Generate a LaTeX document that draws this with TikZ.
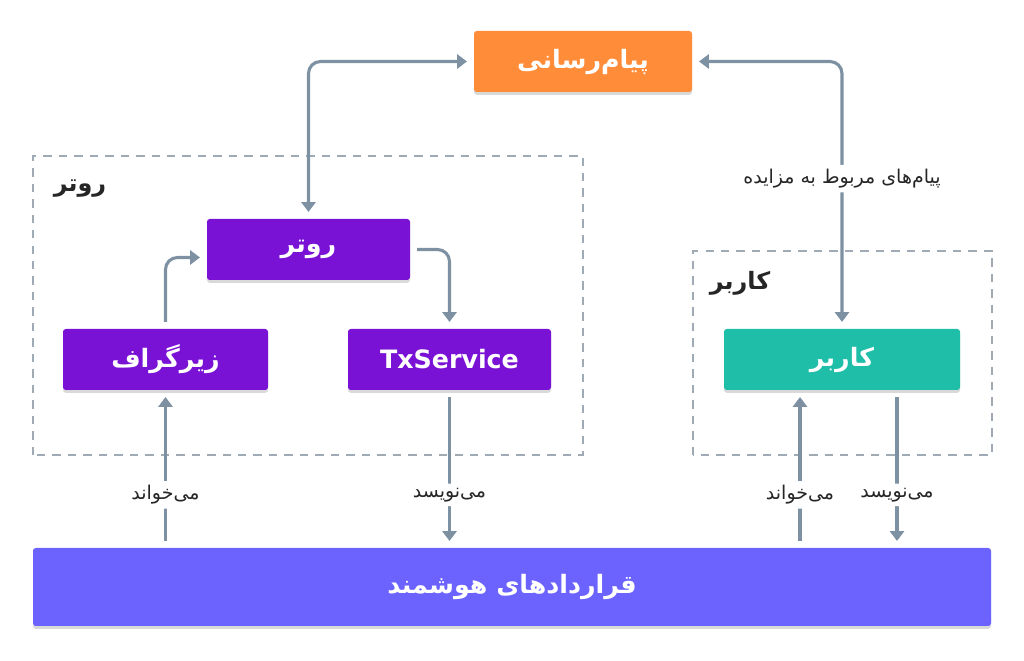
\documentclass[tikz,border=0pt]{standalone}
\usepackage{fontspec}
\setmainfont{DejaVu Sans}
\newfontfamily\farsi[Script=Arabic]{DejaVu Sans}
\TeXXeTstate=1
\usetikzlibrary{arrows.meta}
\usetikzlibrary{shadows}
\definecolor{msgorange}{RGB}{255,140,56}
\definecolor{routerpurple}{RGB}{122,18,214}
\definecolor{userteal}{RGB}{30,190,168}
\definecolor{contractblue}{RGB}{108,99,255}
\definecolor{arrowgray}{RGB}{125,145,163}
\definecolor{framegray}{RGB}{160,170,180}
\newcommand{\fatext}[1]{{\farsi\beginR #1\endR}}
\tikzset{
	box/.style={rounded corners=2pt,minimum height=1.525cm,text=white,outer sep=5pt,
		font=\fontsize{18}{21}\selectfont\bfseries,
		drop shadow={shadow xshift=0pt,shadow yshift=-2pt,opacity=0.15,fill=black}},
	frame/.style={draw=framegray,line width=1pt,dash pattern=on 6pt off 5pt},
	conn/.style={draw=arrowgray,line width=2.2pt,rounded corners=0.3cm,
		arrows={-Triangle[width=10pt,length=7pt]}},
	twoway/.style={conn,arrows={Triangle[width=10pt,length=7pt]-Triangle[width=10pt,length=7pt]}},
	lbl/.style={fill=white,text=black!85,inner sep=3pt,font=\fontsize{13.5}{16}\selectfont},
	framelabel/.style={text=black!85,font=\fontsize{17}{20}\selectfont\bfseries},
}
\begin{document}
\begin{tikzpicture}
	\useasboundingbox (0,0) rectangle (25.6,16.525);

	% containers.....................
	\draw [frame] (0.825,5.15) rectangle (14.575,12.625);
	\node [framelabel] (routerlbl) at (2.0,11.8) {\fatext{روتر}};
	\draw [frame] (17.325,5.15) rectangle (24.8,10.25);
	\node [framelabel] (userlbl) at (18.5,9.45) {\fatext{کاربر}};

	% boxes..........................
	\node [box,fill=msgorange,minimum width=5.45cm] (msg) at (14.575,14.9875) {\fatext{پیام^^^^200cرسانی}};
	\node [box,fill=routerpurple,minimum width=5.075cm] (router) at (7.7125,10.2875) {\fatext{روتر}};
	\node [box,fill=routerpurple,minimum width=5.125cm] (sub) at (4.1375,7.5375) {\fatext{زیرگراف}};
	\node [box,fill=routerpurple,minimum width=5.075cm] (tx) at (11.2375,7.5375) {TxService};
	\node [box,fill=userteal,minimum width=5.9cm] (user) at (21.05,7.5375) {\fatext{کاربر}};
	\node [box,fill=contractblue,minimum width=23.95cm,minimum height=1.95cm] (sc) at (12.8,1.85) {\fatext{قراردادهای هوشمند}};

	% messaging links................
	\draw [twoway] (router.north) |- (msg.west);
	\draw [twoway] (msg.east) -| (user.north)
		node [lbl,pos=0.725] (auction) {\fatext{پیام^^^^200cهای مربوط به مزایده}};

	% inside router..................
	\draw [conn] (router.east) -| (tx.north);
	\draw [conn] (sub.north) |- ([yshift=-0.2cm]router.west);

	% contracts links................
	\draw [conn] (sc.north -| sub.south) -- (sub.south)
		node [lbl,pos=0.32] (subread) {\fatext{می^^^^200cخواند}};
	\draw [conn] (tx.south) -- (tx.south |- sc.north)
		node [lbl,pos=0.68] (txwrite) {\fatext{می^^^^200cنویسد}};
	\draw [conn] (sc.north -| 20.0,0) -- (20.0,0 |- user.south)
		node [lbl,pos=0.32] (userread) {\fatext{می^^^^200cخواند}};
	\draw [conn] (22.425,0 |- user.south) -- (22.425,0 |- sc.north)
		node [lbl,pos=0.68] (userwrite) {\fatext{می^^^^200cنویسد}};
\end{tikzpicture}
\end{document}
